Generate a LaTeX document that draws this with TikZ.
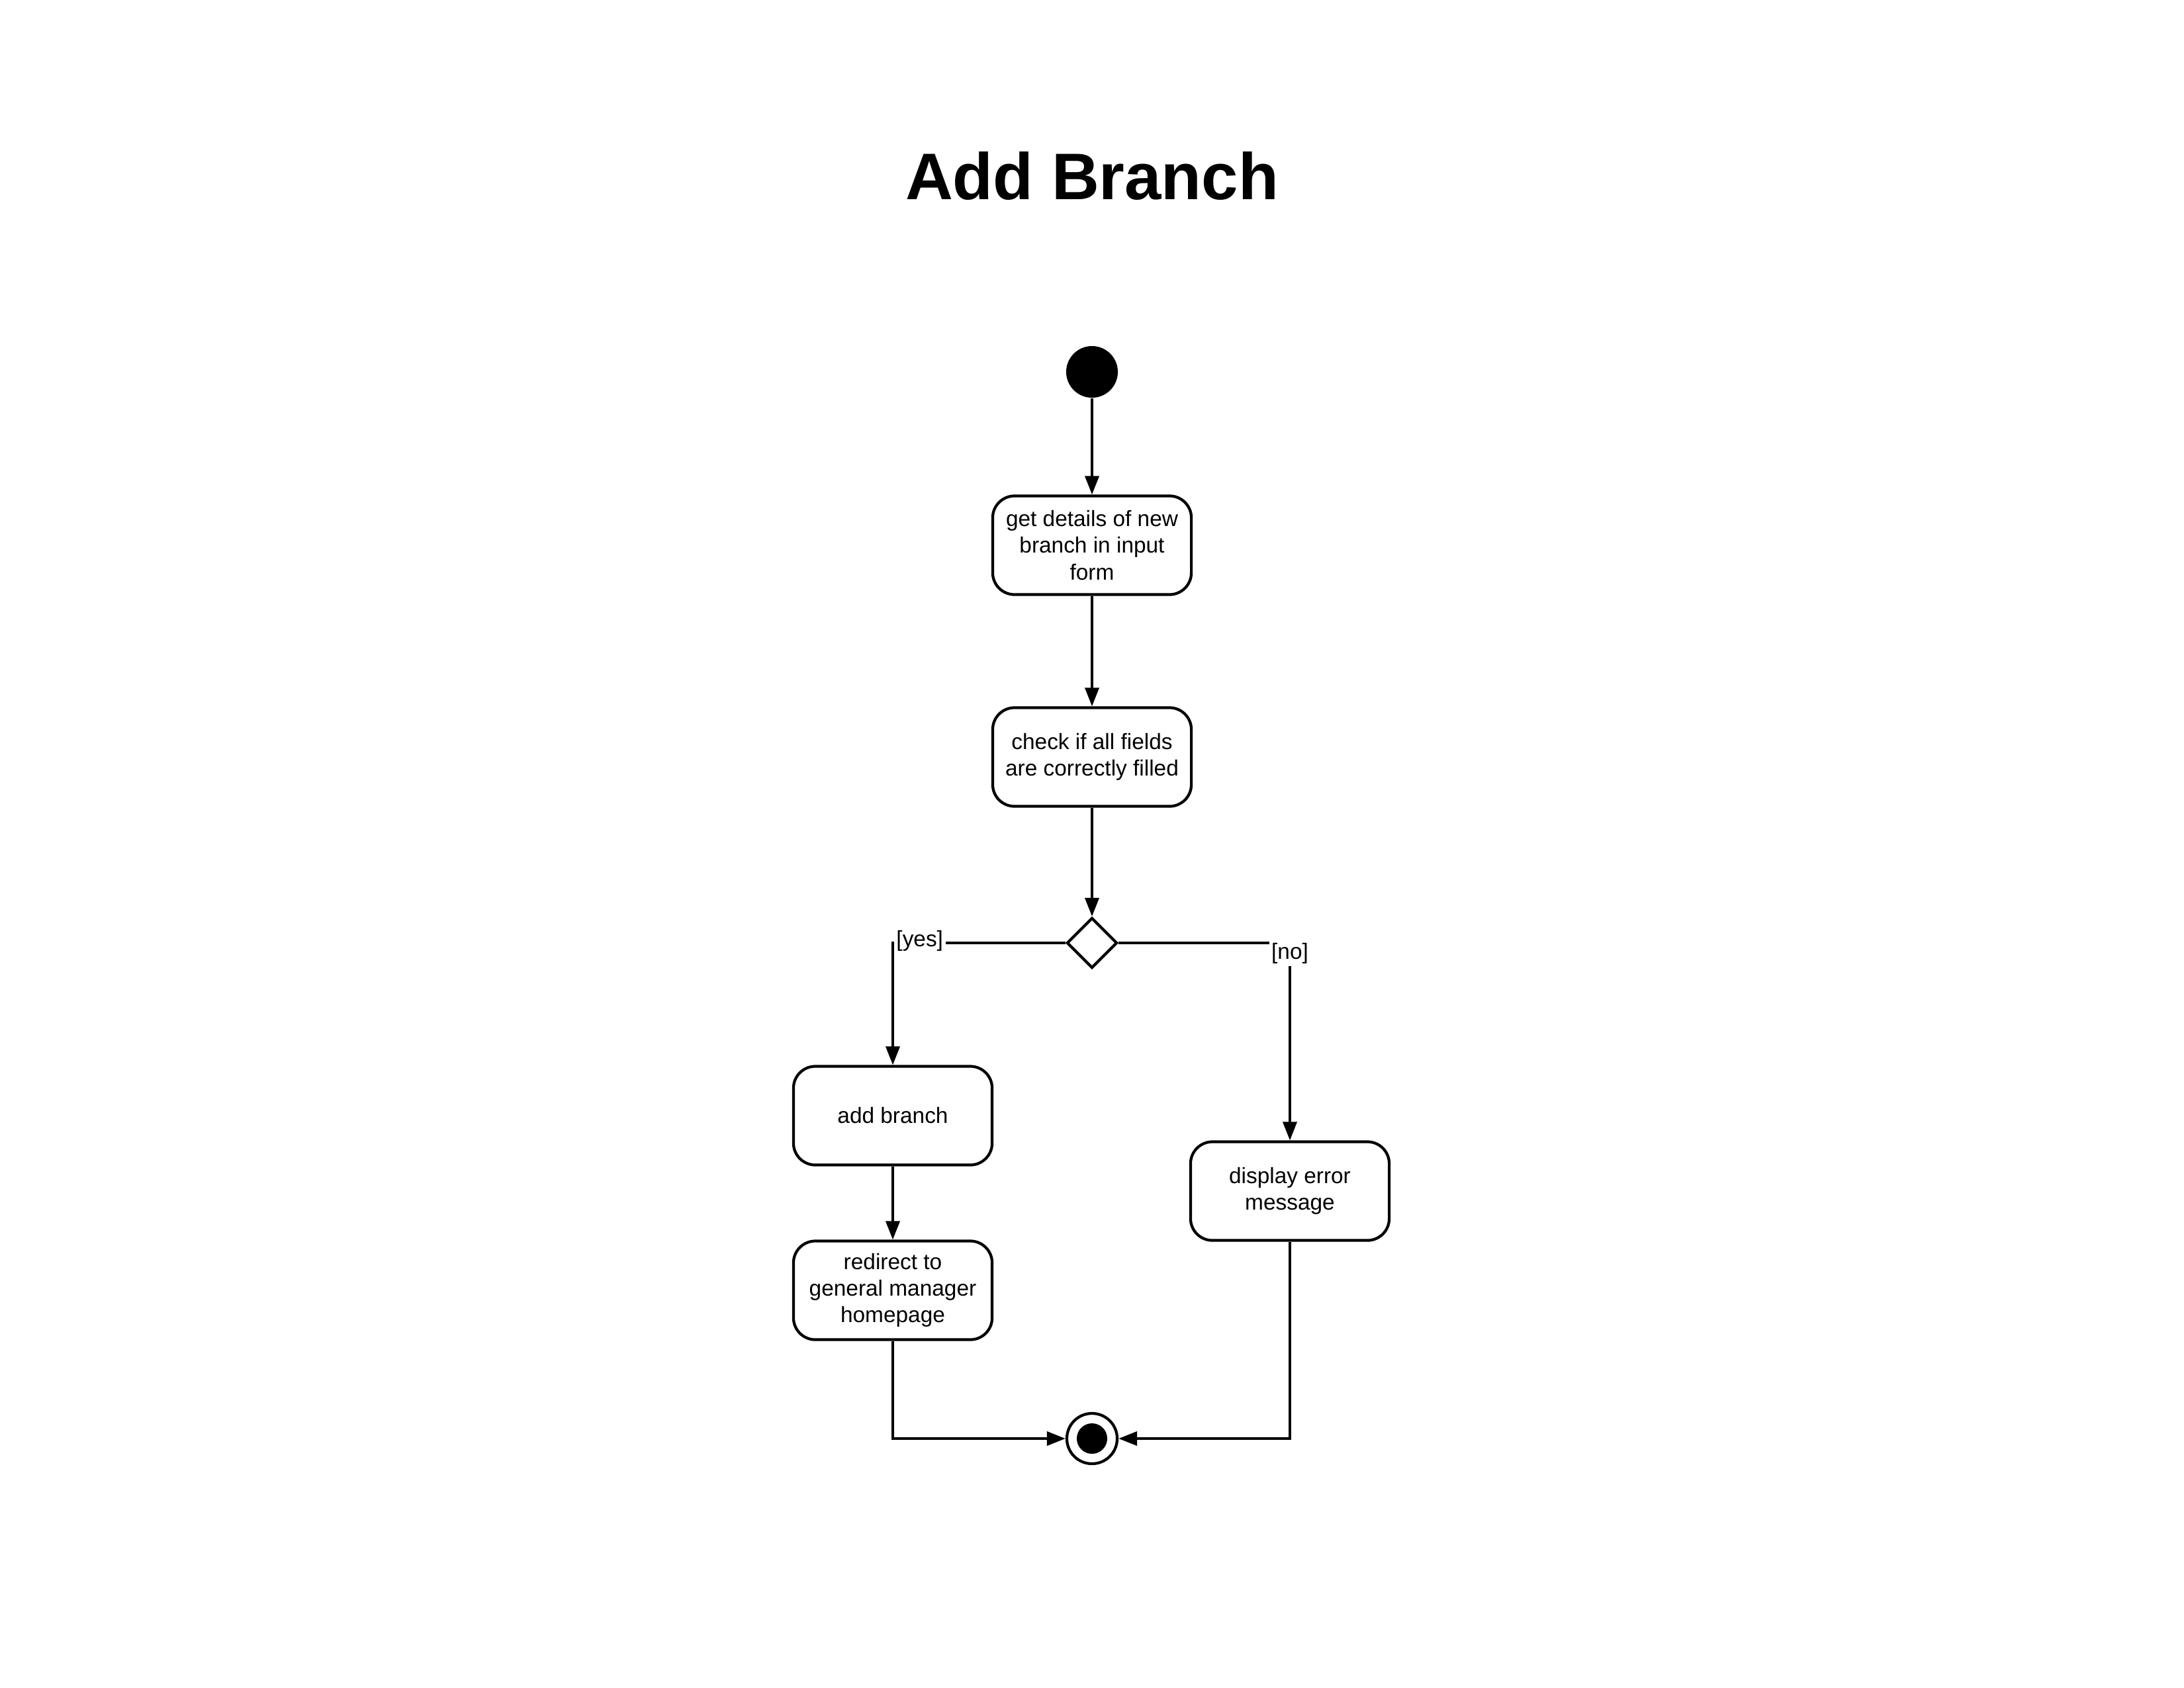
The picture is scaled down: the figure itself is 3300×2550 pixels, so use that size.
\documentclass[tikz,border=0pt]{standalone}
\usepackage{fontspec}
\setmainfont{Liberation Sans}
\usetikzlibrary{arrows.meta}
\usetikzlibrary{shapes.geometric}

\begin{document}
\begin{tikzpicture}[x=0.01cm,y=-0.01cm,
    act/.style={draw,line width=1.2pt,rounded corners=0.33cm,minimum width=3cm,minimum height=1.49cm,align=center,font=\fontsize{9.5}{11.4}\selectfont},
    flow/.style={line width=1.1pt,-{Triangle[length=0.28cm,width=0.21cm]}},
    guard/.style={fill=white,inner sep=1pt,font=\fontsize{9.5}{11.4}\selectfont}]
            \useasboundingbox (0,0) rectangle (3300,2550);
            \node (title) at (1650,266) {\fontsize{28.3}{34}\selectfont\bfseries Add Branch};
            \node[circle,fill=black,minimum size=0.78cm,inner sep=0] (start) at (1650,562) {};
            \node[act] (get) at (1650,824) {get details of new\\branch in input\\form};
            \node[act] (check) at (1650,1144) {check if all fields\\are correctly filled};
            \node[diamond,draw,line width=1.2pt,aspect=1,minimum size=0.76cm,inner sep=0] (dec) at (1650,1425) {};
            \node[act] (add) at (1349,1686) {add branch};
            \node[act] (redirect) at (1349,1950) {redirect to\\general manager\\homepage};
            \node[act] (error) at (1949,1800) {display error\\message};
            \node[circle,draw,fill=white,line width=1.2pt,minimum size=0.76cm,inner sep=0] (end) at (1650,2174) {};
            \node[circle,fill=black,minimum size=0.46cm,inner sep=0] (endDot) at (end) {};
            \draw[flow] (start) to (get);
            \draw[flow] (get) to (check);
            \draw[flow] (check) to (dec);
            \draw[flow] (dec.west) -| node[guard,pos=0.5,anchor=west,yshift=0.03cm] (yes) {[yes]} (add);
            \draw[flow] (dec.east) -| node[guard,pos=0.5,yshift=-0.16cm] (no) {[no]} (error);
            \draw[flow] (add) to (redirect);
            \draw[flow] (redirect) |- (end);
            \draw[flow] (error) |- (end);
        \end{tikzpicture}
\end{document}
